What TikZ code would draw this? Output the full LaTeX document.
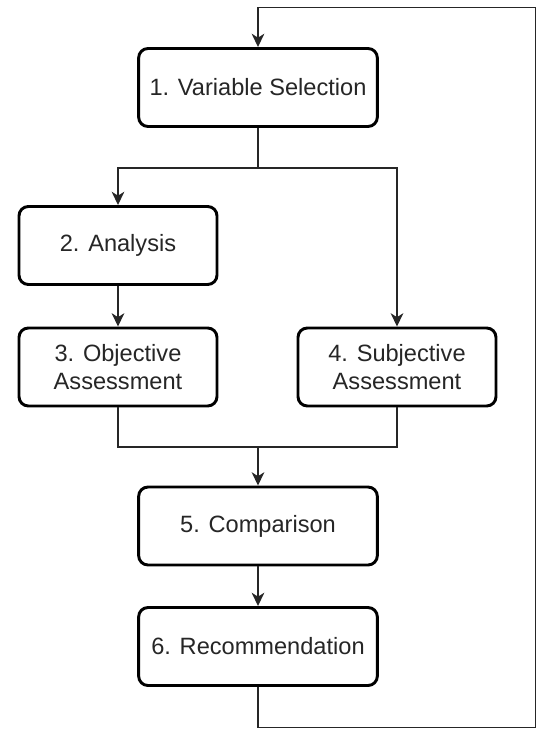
\documentclass[tikz,border=0pt]{standalone}
\usepackage{fontspec}
\setmainfont{Liberation Sans}
\usepackage{tikz}
\usetikzlibrary{arrows.meta}

\tikzset{
  stepbox/.style={draw=black, line width=2.2pt, rounded corners=7pt, fill=white,
    inner sep=0pt, minimum height=58.5pt, align=center, text=black!85,
    font=\fontsize{17.7}{21}\selectfont},
  widebox/.style={stepbox, minimum width=179pt},
  narrowbox/.style={stepbox, minimum width=148.5pt},
  link/.style={draw=black!85, line width=1.1pt},
  flow/.style={link, -{Stealth[length=10pt, width=9.5pt, inset=3pt]}}
}

\begin{document}
\begin{tikzpicture}[x=0.75pt, y=-0.75pt]
\useasboundingbox (0,0) rectangle (537,731);
% STEPS
\node[widebox] (vs) at (258, 87.5) {1. Variable Selection};
\node[narrowbox] (an) at (118, 245.5) {2. Analysis};
\node[narrowbox] (oa) at (118, 367) {3. Objective\\Assessment};
\node[narrowbox] (sa) at (397, 367) {4. Subjective\\Assessment};
\node[widebox] (cmp) at (258, 526) {5. Comparison};
\node[widebox] (rec) at (258, 646.5) {6. Recommendation};
% SPLIT AFTER SELECTION
\coordinate (split) at (258, 168);
\draw[link] (vs.south) -- (split);
\draw[flow] (split) -| (an.north);
\draw[flow] (split) -| (sa.north);
\draw[flow] (an) -- (oa);
% MERGE INTO COMPARISON
\coordinate (merge) at (258, 447);
\draw[link] (oa.south) |- (merge);
\draw[link] (sa.south) |- (merge);
\draw[flow] (merge) -- (cmp.north);
\draw[flow] (cmp) -- (rec);
% FEEDBACK LOOP
\coordinate (fbA) at (258, 727.5);
\coordinate (fbB) at (535.5, 727.5);
\coordinate (fbC) at (535.5, 7.5);
\coordinate (fbD) at (258, 7.5);
\draw[flow] (rec.south) -- (fbA) -- (fbB) -- (fbC) -- (fbD) -- (vs.north);
\end{tikzpicture}
\end{document}
